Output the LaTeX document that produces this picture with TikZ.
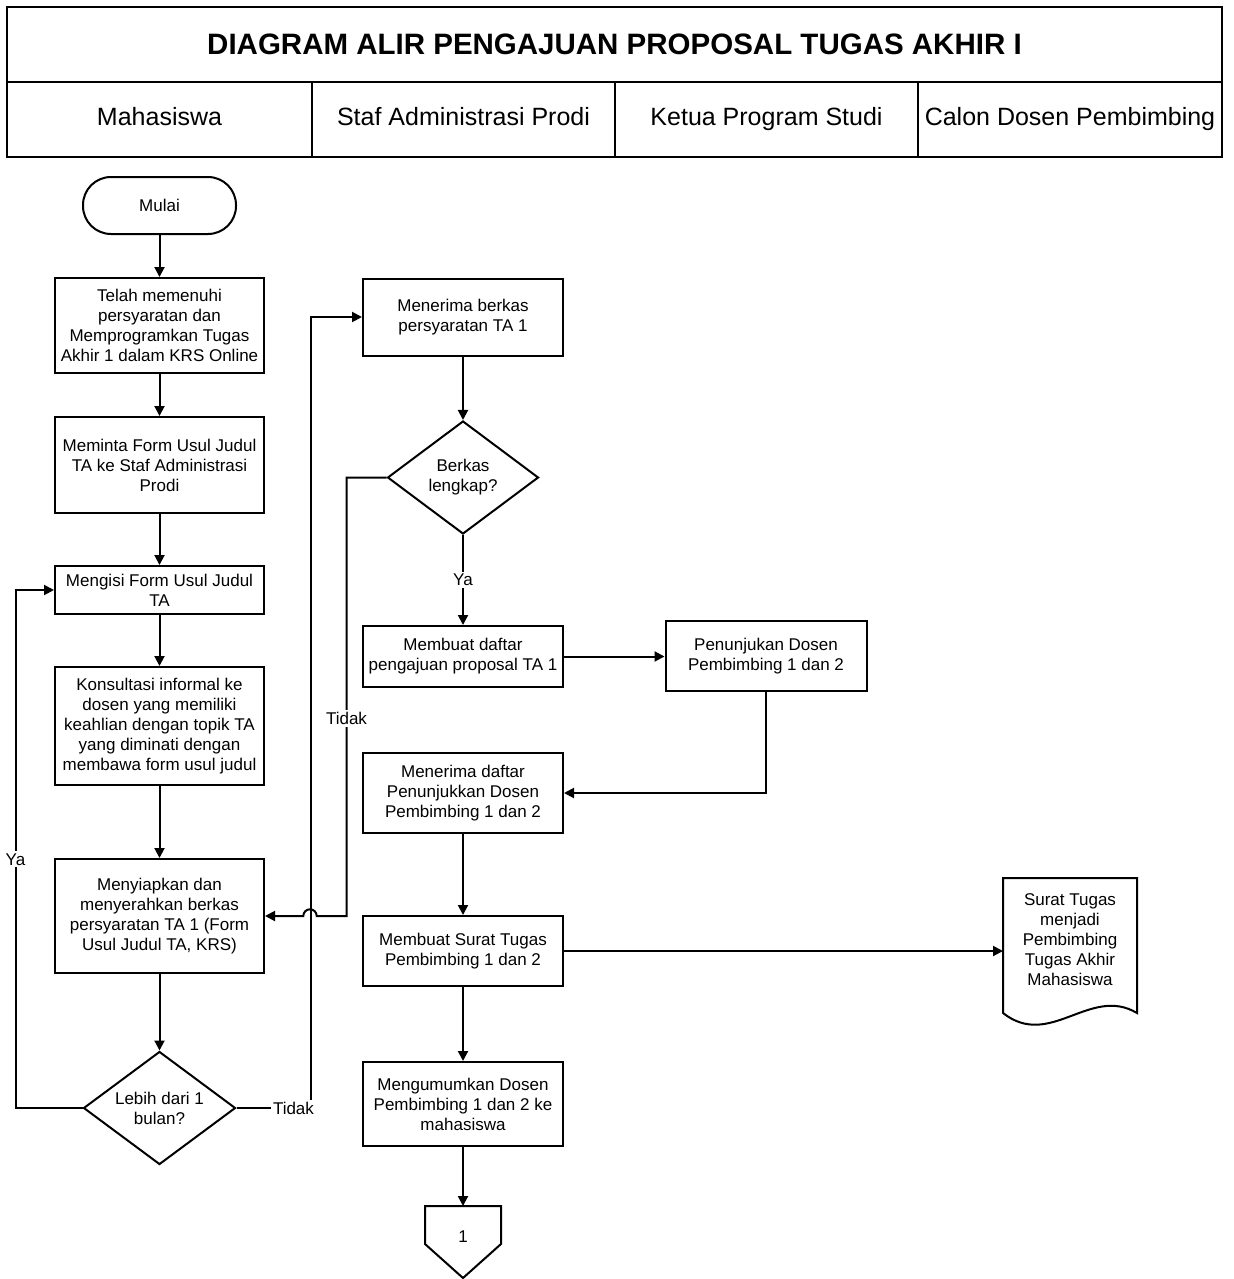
\documentclass[tikz,border=0pt]{standalone}
\usepackage{fontspec}
\setmainfont{Liberation Sans}
\usepackage{tikz}
\usetikzlibrary{shapes.geometric, arrows.meta, calc}
\colorlet{line-color}{black}
\tikzset{
    box/.style = {draw=line-color, rectangle, align=center, inner sep=2pt,
        font=\fontsize{8.5}{10}\selectfont},
    terminal/.style = {box, rounded corners=14pt},
    decision/.style = {draw=line-color, diamond, aspect=1.35, align=center, inner sep=0pt,
        font=\fontsize{8.5}{10}\selectfont},
    doctext/.style = {align=center, inner sep=0pt, font=\fontsize{8.5}{10}\selectfont},
    tag/.style = {fill=white, inner sep=1pt, font=\fontsize{8.5}{10}\selectfont},
    lane/.style = {font=\fontsize{12.5}{15}\selectfont, text height=9pt, text depth=2.6pt},
    judul/.style = {font=\fontsize{14.75}{17}\selectfont\bfseries},
    flow/.style = {draw=line-color, -{Triangle[length=5pt,width=5pt]}},
}

\begin{document}
\begin{tikzpicture}[x=0.5pt, y=-0.5pt, line width=1pt]
    \useasboundingbox (0,0) rectangle (1234,1279);

    % header
    \draw (7,7) rectangle (1222,157);
    \draw (7,82) -- (1222,82);
    \foreach \x in {312,615,918}
        \draw (\x,82) -- (\x,157);
    \node[judul] (judul) at (614.5,44.5) {DIAGRAM ALIR PENGAJUAN PROPOSAL TUGAS AKHIR I};
    \node[lane] (mhs)   at (159.5,119.5) {Mahasiswa};
    \node[lane] (staf)  at (463.5,119.5) {Staf Administrasi Prodi};
    \node[lane] (kaprodi) at (766.5,119.5) {Ketua Program Studi};
    \node[lane] (dosen) at (1070,119.5) {Calon Dosen Pembimbing};

    % mahasiswa
    \node[terminal, minimum width=76.5pt, minimum height=28.5pt] (mulai) at (159.5,205.5) {Mulai};
    \node[box, minimum width=104.5pt, minimum height=47.5pt] (telah) at (159.5,325.5)
        {Telah memenuhi\\persyaratan dan\\Memprogramkan Tugas\\Akhir 1 dalam KRS Online};
    \node[box, minimum width=104.5pt, minimum height=48pt] (minta) at (159.5,465)
        {Meminta Form Usul Judul\\TA ke Staf Administrasi\\Prodi};
    \node[box, minimum width=104.5pt, minimum height=24pt] (isi) at (159.5,590)
        {Mengisi Form Usul Judul\\TA};
    \node[box, minimum width=104.5pt, minimum height=59pt] (konsul) at (159.5,726)
        {Konsultasi informal ke\\dosen yang memiliki\\keahlian dengan topik TA\\yang diminati dengan\\membawa form usul judul};
    \node[box, minimum width=104.5pt, minimum height=57pt] (siap) at (159.5,916)
        {Menyiapkan dan\\menyerahkan berkas\\persyaratan TA 1 (Form\\Usul Judul TA, KRS)};
    \node[decision, minimum width=76pt, minimum height=56.5pt] (lebih) at (159.5,1108)
        {Lebih dari 1\\bulan?};

    % staf administrasi
    \node[box, minimum width=100pt, minimum height=38.5pt] (terima) at (463,317)
        {Menerima berkas\\persyaratan TA 1};
    \node[decision, minimum width=75.5pt, minimum height=56.5pt] (berkas) at (463,477.5)
        {Berkas\\lengkap?};
    \node[box, minimum width=100pt, minimum height=30.5pt] (buatdaftar) at (463,656.5)
        {Membuat daftar\\pengajuan proposal TA 1};
    \node[box, minimum width=100pt, minimum height=40pt] (terimadaftar) at (463,793)
        {Menerima daftar\\Penunjukkan Dosen\\Pembimbing 1 dan 2};
    \node[box, minimum width=100pt, minimum height=35pt] (buatsurat) at (463,951)
        {Membuat Surat Tugas\\Pembimbing 1 dan 2};
    \node[box, minimum width=100pt, minimum height=42pt] (umum) at (463,1104)
        {Mengumumkan Dosen\\Pembimbing 1 dan 2 ke\\mahasiswa};

    % off page connector
    \draw (425,1206) -- (501,1206) -- (501,1244) -- (463,1278) -- (425,1244) -- cycle;
    \coordinate (sambung-top) at (463,1206);
    \node[doctext] (sambung) at (463,1237) {1};

    % ketua program studi
    \node[box, minimum width=100.5pt, minimum height=35pt] (tunjuk) at (766,656)
        {Penunjukan Dosen\\Pembimbing 1 dan 2};

    % calon dosen pembimbing
    \draw (1003,1013) -- (1003,878) -- (1137,878) -- (1137,1013)
        .. controls (1090,985) and (1050,1050) .. (1003,1013) -- cycle;
    \node[doctext, minimum width=67pt] (surat) at (1070,940)
        {Surat Tugas\\menjadi\\Pembimbing\\Tugas Akhir\\Mahasiswa};
    \coordinate (surat-w) at (1003,951);

    % arrows
    \draw[flow] (mulai) -- (telah);
    \draw[flow] (telah) -- (minta);
    \draw[flow] (minta) -- (isi);
    \draw[flow] (isi) -- (konsul);
    \draw[flow] (konsul) -- (siap);
    \draw[flow] (siap) -- (lebih);
    \draw[flow] (lebih.west) -- ++(-67,0) |- node[tag, pos=0.24]{Ya} (isi.west);
    \draw[flow] (lebih.east) -- node[tag, pos=0.77]{Tidak} ++(74,0) |- (terima.west);

    \draw[flow] (terima) -- (berkas);
    \draw[flow] (berkas) -- node[tag]{Ya} (buatdaftar);
    \coordinate (lompat) at (310,916);
    \draw[flow] (berkas.west) -- ++(-40,0) coordinate (belok)
        -- node[tag, pos=0.55]{Tidak} (belok |- siap.east)
        -- ($(lompat)+(6.7,0)$) arc[start angle=0, end angle=180, radius=3.35pt]
        -- (siap.east);

    \draw[flow] (buatdaftar) -- (buatdaftar -| tunjuk.west);
    \draw[flow] (tunjuk.south) |- (terimadaftar.east);
    \draw[flow] (terimadaftar) -- (buatsurat);
    \draw[flow] (buatsurat.east) -- (surat-w);
    \draw[flow] (buatsurat) -- (umum);
    \draw[flow] (umum) -- (sambung-top);
\end{tikzpicture}
\end{document}
